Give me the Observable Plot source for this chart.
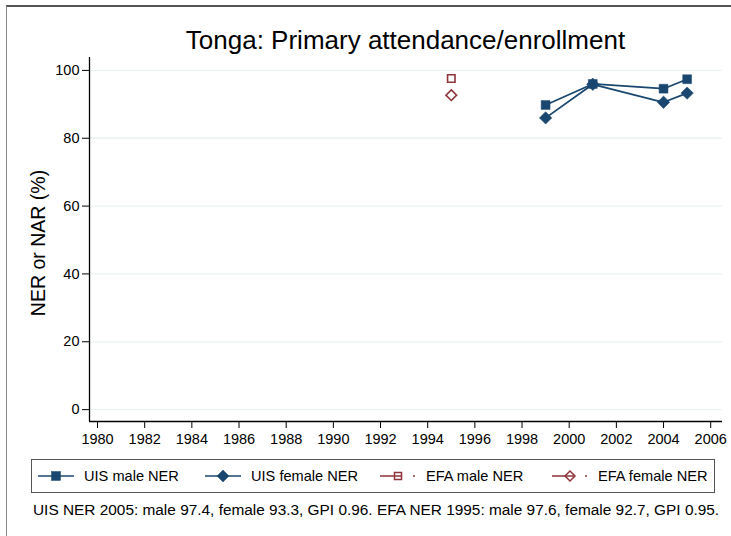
<!DOCTYPE html>
<html>
<head>
<meta charset="utf-8">
<script src="https://cdn.jsdelivr.net/npm/d3@7"></script>
<script src="https://cdn.jsdelivr.net/npm/@observablehq/plot@0.6"></script>
<style>
  html, body { margin: 0; padding: 0; background: #fff; }
  body { width: 731px; height: 536px; overflow: hidden; position: relative; font-family: "Liberation Sans", Arial, sans-serif; color: #000; }
  #frame { position: absolute; left: 6px; top: 5px; width: 900px; height: 900px; border-left: 1px solid #8a8a8a; border-top: 2px solid #555; }
  #title { position: absolute; left: 89px; width: 633px; top: 27px; text-align: center; font-size: 26px; line-height: 1; white-space: nowrap; }
  #chart { position: absolute; left: 0; top: 0; }
  #ytitle { position: absolute; left: 39px; top: 243px; transform: translate(-50%, -50%) rotate(-90deg); font-size: 19.5px; white-space: nowrap; line-height: 1; }
  #legend { position: absolute; left: 31px; top: 459px; width: 684px; height: 34px; border: 1px solid #555; box-sizing: border-box; }
  .li { position: absolute; top: 0; height: 32px; display: flex; align-items: center; font-size: 14.6px; white-space: nowrap; }
  .li svg { margin-right: 10px; }
  #caption { position: absolute; left: 33px; top: 502px; font-size: 15.4px; white-space: nowrap; line-height: 1; }
</style>
</head>
<body>
<div id="frame"></div>
<div id="chart"></div>
<div id="title">Tonga: Primary attendance/enrollment</div>
<div id="ytitle">NER or NAR (%)</div>
<div id="legend"></div>
<div id="caption"></div>
<script>
// ---- data ----
const uisYears = [1999, 2001, 2004, 2005];
const uisMale = [89.8, 96.0, 94.6, 97.4];
const uisFemale = [86.0, 95.9, 90.6, 93.3];
const efaYears = [1995];
const efaMale = [97.6];
const efaFemale = [92.7];
const xTicks = [1980, 1982, 1984, 1986, 1988, 1990, 1992, 1994, 1996, 1998, 2000, 2002, 2004, 2006];
const yTicks = [0, 20, 40, 60, 80, 100];
const seriesNames = ["UIS male NER", "UIS female NER", "EFA male NER", "EFA female NER"];
const captionText = "UIS NER 2005: male 97.4, female 93.3, GPI 0.96. EFA NER 1995: male 97.6, female 92.7, GPI 0.95.";

const navy = "#1a476f";
const maroon = "#90353b";

const uisM = uisYears.map((y, i) => ({year: y, value: uisMale[i]}));
const uisF = uisYears.map((y, i) => ({year: y, value: uisFemale[i]}));
const efaM = efaYears.map((y, i) => ({year: y, value: efaMale[i]}));
const efaF = efaYears.map((y, i) => ({year: y, value: efaFemale[i]}));

const xDom = [1979.66, 2006.5];
const yDom = [-3.5, 103.8];

const chart = Plot.plot({
  width: 731,
  height: 455,
  marginLeft: 89,
  marginRight: 9,
  marginTop: 57,
  marginBottom: 34,
  style: {fontFamily: "Liberation Sans, Arial, sans-serif", fontSize: "14.5px", color: "#000", background: "transparent", overflow: "visible"},
  x: {domain: xDom, axis: null},
  y: {domain: yDom, axis: null},
  marks: [
    Plot.ruleY(yTicks, {stroke: "#eaf2f3", strokeWidth: 1.3}),
    Plot.axisX({ticks: xTicks, tickFormat: d => String(d), tickSize: 7, tickPadding: 5, stroke: "#000", strokeOpacity: 1, label: null}),
    Plot.axisY({ticks: yTicks, tickFormat: d => String(d), tickSize: 7, tickPadding: 3, stroke: "#000", strokeOpacity: 1, label: null}),
    Plot.ruleX([xDom[0]], {stroke: "#000", strokeWidth: 1.3}),
    Plot.ruleY([yDom[0]], {stroke: "#000", strokeWidth: 1.3}),
    Plot.line(uisM, {x: "year", y: "value", stroke: navy, strokeWidth: 1.8}),
    Plot.line(uisF, {x: "year", y: "value", stroke: navy, strokeWidth: 1.8}),
    Plot.dot(uisM, {x: "year", y: "value", symbol: "square", r: 5, fill: navy, stroke: navy, strokeWidth: 0.5}),
    Plot.dot(uisF, {x: "year", y: "value", symbol: "diamond2", r: 5.6, fill: navy, stroke: navy, strokeWidth: 0.5}),
    Plot.dot(efaM, {x: "year", y: "value", symbol: "square", r: 4.2, fill: "white", stroke: maroon, strokeWidth: 1.6}),
    Plot.dot(efaF, {x: "year", y: "value", symbol: "diamond2", r: 4.8, fill: "white", stroke: maroon, strokeWidth: 1.6})
  ]
});
document.getElementById("chart").appendChild(chart);

// legend
const legend = document.getElementById("legend");
const itemLeft = [6, 173, 348, 520];
const kinds = [
  {color: navy, sym: "square", fill: true, dash: false},
  {color: navy, sym: "diamond", fill: true, dash: false},
  {color: maroon, sym: "square", fill: false, dash: true},
  {color: maroon, sym: "diamond", fill: false, dash: true}
];
seriesNames.forEach((name, i) => {
  const k = kinds[i];
  const div = document.createElement("div");
  div.className = "li";
  div.style.left = itemLeft[i] + "px";
  const ns = "http://www.w3.org/2000/svg";
  const s = document.createElementNS(ns, "svg");
  s.setAttribute("width", 36); s.setAttribute("height", 14);
  const line = document.createElementNS(ns, "line");
  line.setAttribute("x1", 0); line.setAttribute("x2", 36); line.setAttribute("y1", 7); line.setAttribute("y2", 7);
  line.setAttribute("stroke", k.color); line.setAttribute("stroke-width", 1.6);
  if (k.dash) line.setAttribute("stroke-dasharray", "22 11 2 10");
  let m;
  if (k.sym === "square") {
    m = document.createElementNS(ns, "rect");
    const sz = k.fill ? 9 : 7;
    m.setAttribute("x", 18 - sz / 2); m.setAttribute("y", 7 - sz / 2); m.setAttribute("width", sz); m.setAttribute("height", sz);
  } else {
    m = document.createElementNS(ns, "path");
    m.setAttribute("d", k.fill ? "M18,1 L24,7 L18,13 L12,7 Z" : "M18,2 L23,7 L18,12 L13,7 Z");
  }
  m.setAttribute("fill", k.fill ? k.color : "none");
  m.setAttribute("stroke", k.color); m.setAttribute("stroke-width", k.fill ? 0.5 : 1.5);
  s.appendChild(line);
  s.appendChild(m);
  div.appendChild(s);
  const t = document.createElement("span");
  t.textContent = name;
  div.appendChild(t);
  legend.appendChild(div);
});
document.getElementById("caption").textContent = captionText;
</script>
</body>
</html>
